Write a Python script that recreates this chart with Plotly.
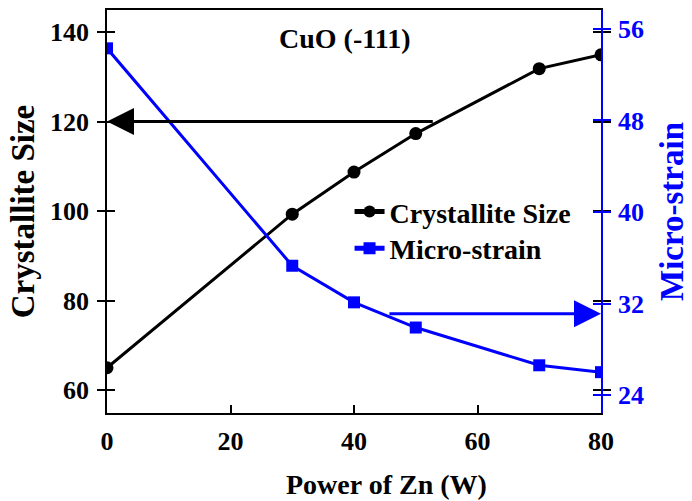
import plotly.graph_objects as go

# Sputtering power of Zn (W)
power = [0, 30, 40, 50, 70, 80]
# CuO (-111) crystallite size and micro-strain
crystallite_size = [65.0, 99.3, 108.7, 117.3, 131.8, 134.9]
micro_strain = [54.3, 35.3, 32.1, 29.9, 26.6, 26.0]

size_ticks = [60, 80, 100, 120, 140]
strain_ticks = [24, 32, 40, 48, 56]
power_ticks = [0, 20, 40, 60, 80]

size_range = [54.9, 144.9]
strain_range = [22.43, 57.65]

# pointer arrows (tail -> head): size curve points to left axis, strain curve to right axis
size_arrow = dict(tail=(53, 120), head=(0, 120))
strain_arrow = dict(tail=(45.5, 31.1), head=(80, 31.1))

FONT = "Liberation Serif, Times New Roman, serif"
BLUE = "#0000ff"
BLACK = "#000000"

fig = go.Figure()

fig.add_trace(go.Scatter(
    x=power, y=crystallite_size, name="Crystallite Size",
    mode="lines+markers", yaxis="y", legend="legend",
    line=dict(color=BLACK, width=3),
    marker=dict(symbol="circle", size=13, color=BLACK),
))
fig.add_trace(go.Scatter(
    x=power, y=micro_strain, name="Micro-strain",
    mode="lines+markers", yaxis="y2", legend="legend2",
    line=dict(color=BLUE, width=3),
    marker=dict(symbol="square", size=12, color=BLUE),
))
# invisible traces so the inward tick overlays get drawn
fig.add_trace(go.Scatter(x=[None], y=[None], yaxis="y3", showlegend=False, hoverinfo="skip"))
fig.add_trace(go.Scatter(x=[None], y=[None], yaxis="y4", showlegend=False, hoverinfo="skip"))

tick_font = dict(family=FONT, size=26, color=BLACK, weight="bold")
tick_font_blue = dict(family=FONT, size=26, color=BLUE, weight="bold")

fig.update_layout(
    width=692, height=501,
    margin=dict(l=107, r=90, t=8, b=88),
    paper_bgcolor="white", plot_bgcolor="white",
    font=dict(family=FONT, color=BLACK),
    xaxis=dict(
        range=[0, 80], tickvals=power_ticks, ticks="inside", ticklen=8,
        tickwidth=1.5, tickcolor=BLACK, showline=True, linecolor=BLACK,
        linewidth=1.5, mirror=True, showgrid=False, zeroline=False,
        tickfont=tick_font, ticklabelstandoff=4,
    ),
    yaxis=dict(
        range=size_range, tickvals=size_ticks, ticks="outside", ticklen=8,
        tickwidth=1.5, tickcolor=BLACK, showline=True, linecolor=BLACK,
        linewidth=1.5, mirror="ticks", showgrid=False, zeroline=False,
        tickfont=tick_font, ticklabelstandoff=3,
        title=dict(text="Crystallite Size", standoff=5,
                   font=dict(family=FONT, size=33, color=BLACK, weight="bold")),
    ),
    yaxis3=dict(
        range=size_range, tickvals=size_ticks, ticks="inside", ticklen=8,
        tickwidth=1.5, tickcolor=BLACK, overlaying="y", side="left",
        mirror="ticks", showline=False, showticklabels=False,
        showgrid=False, zeroline=False,
    ),
    yaxis2=dict(
        range=strain_range, tickvals=strain_ticks, ticks="outside", ticklen=8,
        tickwidth=1.5, tickcolor=BLUE, overlaying="y", side="right",
        showline=True, linecolor=BLUE, linewidth=1.5, showgrid=False,
        zeroline=False, tickfont=tick_font_blue, ticklabelstandoff=2,
        title=dict(text="Micro-strain", standoff=17,
                   font=dict(family=FONT, size=33, color=BLUE, weight="bold")),
    ),
    yaxis4=dict(
        range=strain_range, tickvals=strain_ticks, ticks="inside", ticklen=8,
        tickwidth=1.5, tickcolor=BLUE, overlaying="y", side="right",
        showline=False, showticklabels=False, showgrid=False, zeroline=False,
    ),
    legend=dict(
        x=0.491, y=0.499, xanchor="left", yanchor="middle",
        bgcolor="rgba(0,0,0,0)", itemsizing="constant",
        font=dict(family=FONT, size=28, color=BLACK, weight="bold"),
    ),
    legend2=dict(
        x=0.491, y=0.408, xanchor="left", yanchor="middle",
        bgcolor="rgba(0,0,0,0)", itemsizing="constant",
        font=dict(family=FONT, size=28, color=BLACK, weight="bold"),
    ),
    showlegend=True,
)

# panel label
fig.add_annotation(
    text="CuO (-111)", xref="paper", yref="paper",
    x=(345 - 107) / 495, y=(413 - 37) / 405, xanchor="center", yanchor="middle",
    showarrow=False,
    font=dict(family=FONT, size=28, color=BLACK, weight="bold"),
)
# x-axis title, set a little right of the plot centre
fig.add_annotation(
    text="Power of Zn (W)", xref="paper", yref="paper",
    x=(387 - 107) / 495, y=-(485 - 413) / 405, xanchor="center", yanchor="middle",
    showarrow=False,
    font=dict(family=FONT, size=28, color=BLACK, weight="bold"),
)

fig.add_annotation(
    x=size_arrow["head"][0], y=size_arrow["head"][1], xref="x", yref="y",
    ax=size_arrow["tail"][0], ay=size_arrow["tail"][1], axref="x", ayref="y",
    text="", showarrow=True, arrowhead=2, arrowsize=1.8, arrowwidth=3,
    arrowcolor=BLACK, standoff=0,
)
fig.add_annotation(
    x=strain_arrow["head"][0], y=strain_arrow["head"][1], xref="x", yref="y2",
    ax=strain_arrow["tail"][0], ay=strain_arrow["tail"][1], axref="x", ayref="y2",
    text="", showarrow=True, arrowhead=2, arrowsize=1.8, arrowwidth=3,
    arrowcolor=BLUE, standoff=0,
)

fig.write_html("out.html")
